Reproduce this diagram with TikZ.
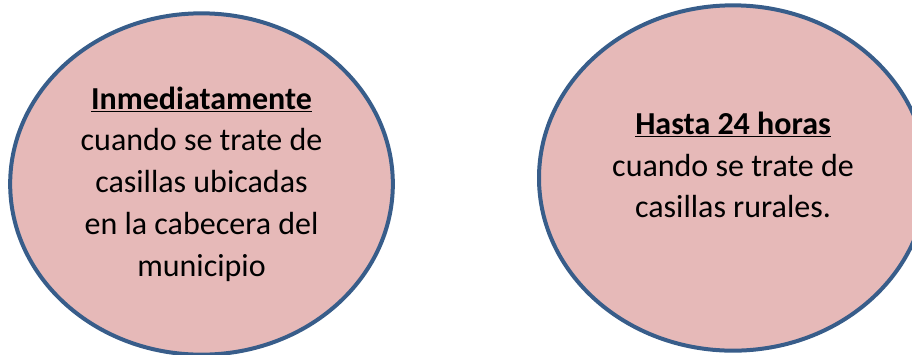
\documentclass[tikz,border=0pt]{standalone}
\usepackage{fontspec}
\setmainfont{Carlito}
\usetikzlibrary{shapes.geometric}

\definecolor{rosa}{HTML}{E6B9B8}
\definecolor{azul}{HTML}{385D8A}

\tikzset{
  bubble/.style={ellipse,draw=azul,fill=rosa,line width=3pt,inner sep=0pt},
  bubbletext/.style={align=center,font=\fontsize{24}{31.3}\selectfont}
}

\begin{document}
\begin{tikzpicture}[x=0.75pt,y=-0.75pt]
  \useasboundingbox (0,0) rectangle (912,354);

  % Left ellipse
  \node[bubble,minimum width=287pt,minimum height=256pt] (left) at (201.5,184) {};
  \node[bubbletext] (lefttext) at (left.center)
    {\textbf{\underline{Inmediatamente}}\\cuando se trate de\\casillas ubicadas\\en la cabecera del\\municipio};

  % Right ellipse
  \node[bubble,minimum width=291pt,minimum height=259pt] (right) at (733,178) {};
  \node[bubbletext] (righttext) at (733,165)
    {\textbf{\underline{Hasta 24 horas}}\\cuando se trate de\\casillas rurales.};
\end{tikzpicture}
\end{document}
